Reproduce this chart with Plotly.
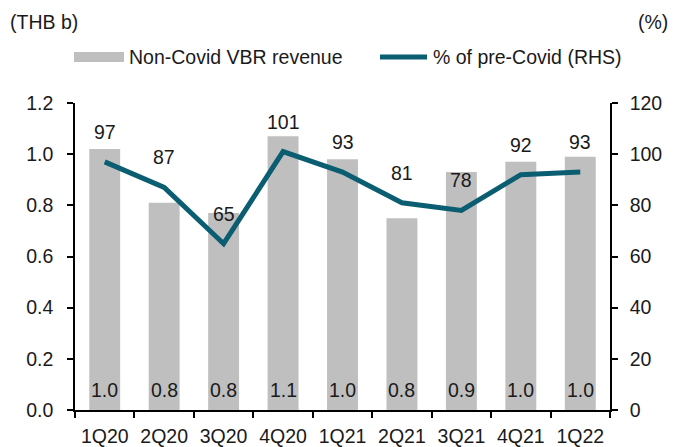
import plotly.graph_objects as go

quarters = ["1Q20", "2Q20", "3Q20", "4Q20", "1Q21", "2Q21", "3Q21", "4Q21", "1Q22"]
revenue = [1.02, 0.81, 0.77, 1.07, 0.98, 0.75, 0.93, 0.97, 0.99]
revenue_labels = ["1.0", "0.8", "0.8", "1.1", "1.0", "0.8", "0.9", "1.0", "1.0"]
pct_precovid = [97, 87, 65, 101, 93, 81, 78, 92, 93]
series_names = ["Non-Covid VBR revenue", "% of pre-Covid (RHS)"]

FONT = "Liberation Sans, Arial, sans-serif"
FS = 19.5
BAR = "#bfbfbf"
LINE = "#0b5d72"
TXT = "#1a1a1a"

W, H = 680, 447
L, R, T, B = 75, 70, 103, 37
PW, PH = W - L - R, H - T - B


def px_x(x):
    return (x - L) / PW


def px_y(y):
    return (H - B - y) / PH


fig = go.Figure()
fig.add_trace(go.Bar(
    x=quarters, y=revenue, name=series_names[0],
    marker=dict(color=BAR, line=dict(width=0)), yaxis="y", showlegend=False,
))
fig.add_trace(go.Scatter(
    x=quarters, y=pct_precovid, name=series_names[1],
    mode="lines", line=dict(color=LINE, width=5), yaxis="y2", showlegend=False,
))

font = dict(size=FS, color=TXT, family=FONT)
annotations = []
for q, lab in zip(quarters, revenue_labels):
    annotations.append(dict(x=q, y=0, xref="x", yref="y", text=lab, showarrow=False,
                            yanchor="middle", yshift=20, font=font))
for q, v in zip(quarters, pct_precovid):
    annotations.append(dict(x=q, y=v, xref="x", yref="y2", text=str(v), showarrow=False,
                            yanchor="middle", yshift=30, font=font))
annotations.append(dict(x=px_x(8), y=px_y(22), xref="paper", yref="paper", xanchor="left",
                        yanchor="middle", text="(THB b)", showarrow=False, font=font))
annotations.append(dict(x=px_x(670), y=px_y(22), xref="paper", yref="paper", xanchor="right",
                        yanchor="middle", text="(%)", showarrow=False, font=font))
# legend (drawn manually to match wide swatches)
annotations.append(dict(x=px_x(127), y=px_y(57), xref="paper", yref="paper", xanchor="left",
                        yanchor="middle", text=series_names[0], showarrow=False, font=font))
annotations.append(dict(x=px_x(431), y=px_y(57), xref="paper", yref="paper", xanchor="left",
                        yanchor="middle", text=series_names[1], showarrow=False, font=font))

shapes = [
    dict(type="rect", xref="paper", yref="paper", x0=px_x(74), x1=px_x(124),
         y0=px_y(62), y1=px_y(52), fillcolor=BAR, line=dict(width=0)),
    dict(type="line", xref="paper", yref="paper", x0=px_x(380), x1=px_x(427),
         y0=px_y(57), y1=px_y(57), line=dict(color=LINE, width=5)),
]

axis_common = dict(showline=True, linecolor="black", linewidth=1.5, ticks="outside",
                   ticklen=6, tickcolor="black", tickwidth=1.5, showgrid=False,
                   automargin=False, tickfont=font)

fig.update_layout(
    width=W, height=H,
    margin=dict(l=L, r=R, t=T, b=B, autoexpand=False),
    paper_bgcolor="white", plot_bgcolor="white",
    font=font,
    bargap=0.48,
    showlegend=False,
    xaxis=dict(tickson="boundaries", ticklabelstandoff=8, **axis_common),
    yaxis=dict(range=[0, 1.2], dtick=0.2, tickformat=".1f", zeroline=False,
               ticklabelstandoff=10, **axis_common),
    yaxis2=dict(range=[0, 120], dtick=20, overlaying="y", side="right", zeroline=False,
                ticklabelstandoff=8, **axis_common),
    annotations=annotations,
    shapes=shapes,
)
fig.write_html("out.html", config={"displayModeBar": False},
               post_script="document.body.style.margin='0';")
